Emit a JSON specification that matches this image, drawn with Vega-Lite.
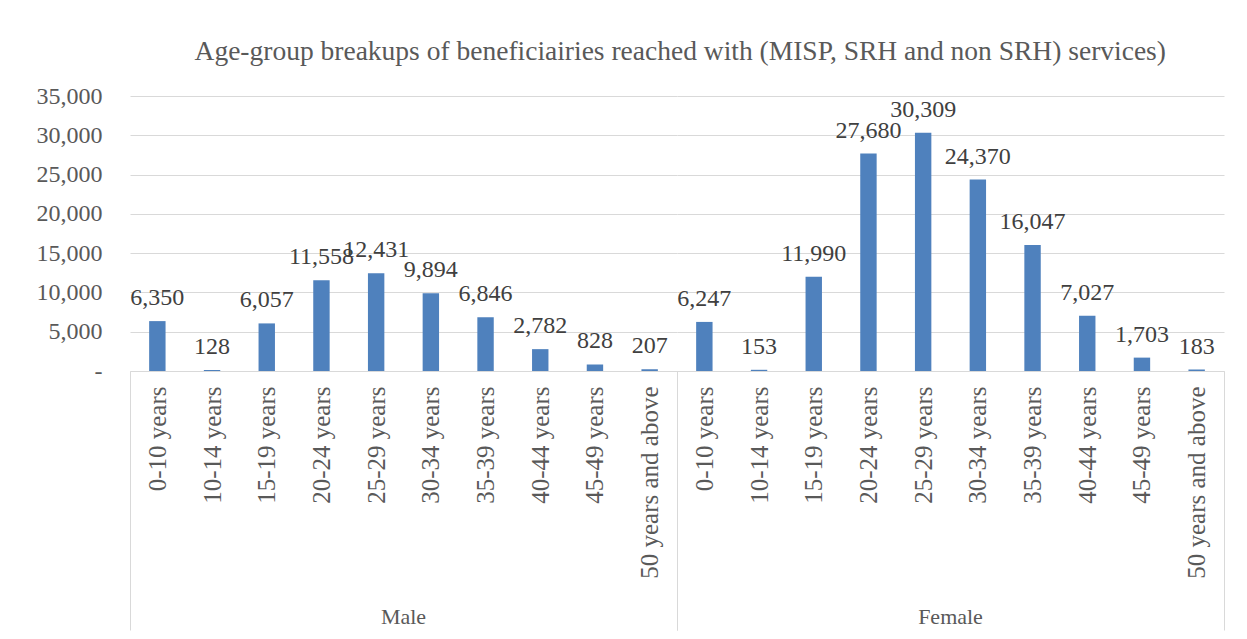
{
  "$schema": "https://vega.github.io/schema/vega-lite/v6.json",
  "padding": {"left": 36, "top": 37, "right": 10, "bottom": 0},
  "title": {
    "text": "Age-group breakups of beneficiairies reached with (MISP, SRH and non SRH) services)",
    "font": "Liberation Serif", "fontSize": 27.5, "fontWeight": "normal", "color": "#595959",
    "anchor": "middle", "offset": 19, "dx": 50
  },
  "data": {"values": [
    {"gender": "Male", "age": "0-10 years", "value": 6350},
    {"gender": "Male", "age": "10-14 years", "value": 128},
    {"gender": "Male", "age": "15-19 years", "value": 6057},
    {"gender": "Male", "age": "20-24 years", "value": 11558},
    {"gender": "Male", "age": "25-29 years", "value": 12431},
    {"gender": "Male", "age": "30-34 years", "value": 9894},
    {"gender": "Male", "age": "35-39 years", "value": 6846},
    {"gender": "Male", "age": "40-44 years", "value": 2782},
    {"gender": "Male", "age": "45-49 years", "value": 828},
    {"gender": "Male", "age": "50 years and above", "value": 207},
    {"gender": "Female", "age": "0-10 years", "value": 6247},
    {"gender": "Female", "age": "10-14 years", "value": 153},
    {"gender": "Female", "age": "15-19 years", "value": 11990},
    {"gender": "Female", "age": "20-24 years", "value": 27680},
    {"gender": "Female", "age": "25-29 years", "value": 30309},
    {"gender": "Female", "age": "30-34 years", "value": 24370},
    {"gender": "Female", "age": "35-39 years", "value": 16047},
    {"gender": "Female", "age": "40-44 years", "value": 7027},
    {"gender": "Female", "age": "45-49 years", "value": 1703},
    {"gender": "Female", "age": "50 years and above", "value": 183}
  ]},
  "spacing": 0,
  "facet": {
    "column": {
      "field": "gender", "type": "nominal", "sort": ["Male", "Female"],
      "header": {"labelOrient": "bottom", "title": null, "labelFont": "Liberation Serif",
                 "labelFontSize": 22, "labelColor": "#595959", "labelPadding": -24}
    }
  },
  "spec": {
    "width": 547,
    "height": 275,
    "encoding": {
      "x": {
        "field": "age", "type": "nominal", "sort": null,
        "scale": {"paddingInner": 0, "paddingOuter": 0},
        "axis": {
          "title": null, "labelAngle": -90, "labelFont": "Liberation Serif", "labelFontSize": 25,
          "labelColor": "#595959", "labelLimit": 0, "domainColor": "#d9d9d9", "tickBand": "extent",
          "tickSize": 259, "tickColor": "#d9d9d9",
          "tickOpacity": {"condition": {"test": "datum.value === '50 years and above' || datum.extra", "value": 1}, "value": 0},
          "labelPadding": -244, "grid": false
        }
      },
      "y": {
        "field": "value", "type": "quantitative",
        "scale": {"domain": [0, 35000], "nice": false},
        "axis": {
          "title": null, "domain": false, "ticks": false, "labelFont": "Liberation Serif",
          "labelFontSize": 24, "labelColor": "#595959", "labelPadding": 28,
          "values": [0, 5000, 10000, 15000, 20000, 25000, 30000, 35000],
          "gridColor": "#d9d9d9",
          "labelExpr": "datum.value === 0 ? '-\u00a0\u00a0' : format(datum.value, ',')"
        }
      }
    },
    "layer": [
      {"mark": {"type": "bar", "color": "#4F81BD", "width": {"band": 0.3}}},
      {
        "mark": {"type": "text", "baseline": "alphabetic", "dy": -16, "font": "Liberation Serif",
                 "fontSize": 24, "color": "#404040"},
        "encoding": {"text": {"field": "value", "type": "quantitative", "format": ","}}
      }
    ]
  },
  "config": {
    "view": {"stroke": null},
    "background": "white"
  }
}
